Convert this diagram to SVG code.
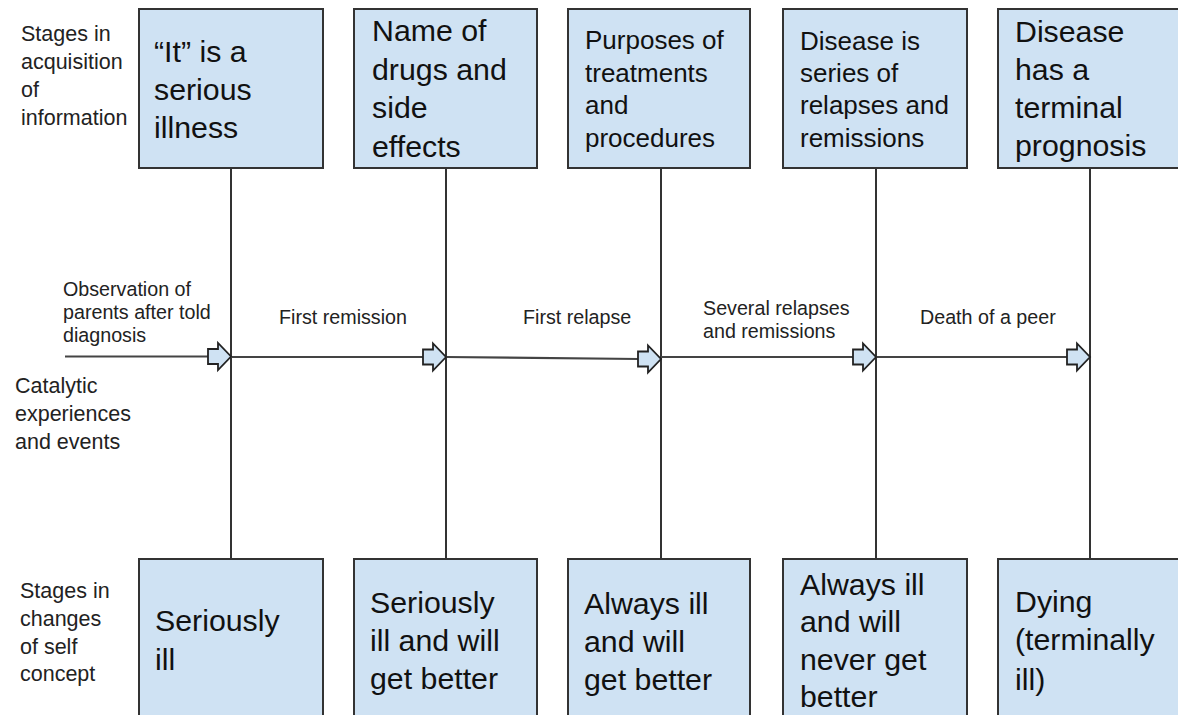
<svg xmlns="http://www.w3.org/2000/svg" width="1178" height="715" viewBox="0 0 1178 715">
<style>
.box{fill:#cfe2f3;stroke:#333;stroke-width:2}
.big{font-family:"Liberation Sans",Arial,sans-serif;font-size:30.3px;fill:#111}
.mid{font-family:"Liberation Sans",Arial,sans-serif;font-size:26px;fill:#111}
.lab{font-family:"Liberation Sans",Arial,sans-serif;font-size:21.5px;fill:#222}
.alab{font-family:"Liberation Sans",Arial,sans-serif;font-size:19.7px;fill:#222}
.vline{stroke:#333;stroke-width:2;fill:none}
.hline{stroke:#444;stroke-width:2.2;fill:none}
.barrow{fill:#cfe2f3;stroke:#222;stroke-width:1.8;stroke-linejoin:miter}
</style>
<g id="row-labels">
<text class="lab" x="21" y="41">Stages in</text>
<text class="lab" x="21" y="69">acquisition</text>
<text class="lab" x="21" y="97">of</text>
<text class="lab" x="21" y="125">information</text>
<text class="lab" x="15" y="393">Catalytic</text>
<text class="lab" x="15" y="421">experiences</text>
<text class="lab" x="15" y="449">and events</text>
<text class="lab" x="20" y="598">Stages in</text>
<text class="lab" x="20" y="626">changes</text>
<text class="lab" x="20" y="654">of self</text>
<text class="lab" x="20" y="681">concept</text>
</g>
<g id="connectors">
<line class="vline" x1="231" y1="168" x2="231" y2="559"/>
<line class="vline" x1="446" y1="168" x2="446" y2="559"/>
<line class="vline" x1="661" y1="168" x2="661" y2="559"/>
<line class="vline" x1="876" y1="168" x2="876" y2="559"/>
<line class="vline" x1="1090" y1="168" x2="1090" y2="559"/>
<line class="hline" x1="65" y1="356.5" x2="209" y2="356.5"/>
<line class="hline" x1="231" y1="357" x2="424" y2="357"/>
<line class="hline" x1="446" y1="357" x2="639" y2="359"/>
<line class="hline" x1="661" y1="357" x2="854" y2="357"/>
<line class="hline" x1="876" y1="357" x2="1068" y2="357"/>
<polygon class="barrow" points="208,349 218,349 218,343 231,356.5 218,370 218,364 208,364"/>
<polygon class="barrow" points="423,349.5 433,349.5 433,343.5 446,357 433,370.5 433,364.5 423,364.5"/>
<polygon class="barrow" points="638,351.5 648,351.5 648,345.5 661,359 648,372.5 648,366.5 638,366.5"/>
<polygon class="barrow" points="853,349.5 863,349.5 863,343.5 876,357 863,370.5 863,364.5 853,364.5"/>
<polygon class="barrow" points="1067,349.5 1077,349.5 1077,343.5 1090,357 1077,370.5 1077,364.5 1067,364.5"/>
</g>
<g id="edge-labels">
<text class="alab" x="63" y="296">Observation of</text>
<text class="alab" x="63" y="319">parents after told</text>
<text class="alab" x="63" y="342">diagnosis</text>
<text class="alab" x="279" y="324">First remission</text>
<text class="alab" x="523" y="324">First relapse</text>
<text class="alab" x="703" y="315">Several relapses</text>
<text class="alab" x="703" y="338">and remissions</text>
<text class="alab" x="920" y="324">Death of a peer</text>
</g>
<g id="info1"><rect class="box" x="139" y="9" width="184" height="159"/>
<text class="big" x="154" y="62">“It” is a</text><text class="big" x="154" y="100">serious</text><text class="big" x="154" y="138">illness</text></g>
<g id="info2"><rect class="box" x="354" y="9" width="183" height="159"/>
<text class="big" x="372" y="41">Name of</text><text class="big" x="372" y="80">drugs and</text><text class="big" x="372" y="118">side</text><text class="big" x="372" y="157">effects</text></g>
<g id="info3"><rect class="box" x="568" y="9" width="182" height="159"/>
<text class="mid" x="585" y="49">Purposes of</text><text class="mid" x="585" y="82">treatments</text><text class="mid" x="585" y="114">and</text><text class="mid" x="585" y="147">procedures</text></g>
<g id="info4"><rect class="box" x="783" y="9" width="184" height="159"/>
<text class="mid" x="800" y="50">Disease is</text><text class="mid" x="800" y="82">series of</text><text class="mid" x="800" y="114">relapses and</text><text class="mid" x="800" y="147">remissions</text></g>
<g id="info5"><rect class="box" x="998" y="9" width="185" height="159"/>
<text class="big" x="1015" y="42">Disease</text><text class="big" x="1015" y="80">has a</text><text class="big" x="1015" y="118">terminal</text><text class="big" x="1015" y="156">prognosis</text></g>
<g id="self1"><rect class="box" x="139" y="559" width="184" height="170"/>
<text class="big" x="155" y="631">Seriously</text><text class="big" x="155" y="670">ill</text></g>
<g id="self2"><rect class="box" x="354" y="559" width="183" height="170"/>
<text class="big" x="370" y="613">Seriously</text><text class="big" x="370" y="651">ill and will</text><text class="big" x="370" y="689">get better</text></g>
<g id="self3"><rect class="box" x="568" y="559" width="182" height="170"/>
<text class="big" x="584" y="614">Always ill</text><text class="big" x="584" y="652">and will</text><text class="big" x="584" y="690">get better</text></g>
<g id="self4"><rect class="box" x="783" y="559" width="184" height="170"/>
<text class="big" x="800" y="595">Always ill</text><text class="big" x="800" y="632">and will</text><text class="big" x="800" y="670">never get</text><text class="big" x="800" y="707">better</text></g>
<g id="self5"><rect class="box" x="998" y="559" width="185" height="170"/>
<text class="big" x="1015" y="612">Dying</text><text class="big" x="1015" y="650">(terminally</text><text class="big" x="1015" y="690">ill)</text></g>
</svg>
